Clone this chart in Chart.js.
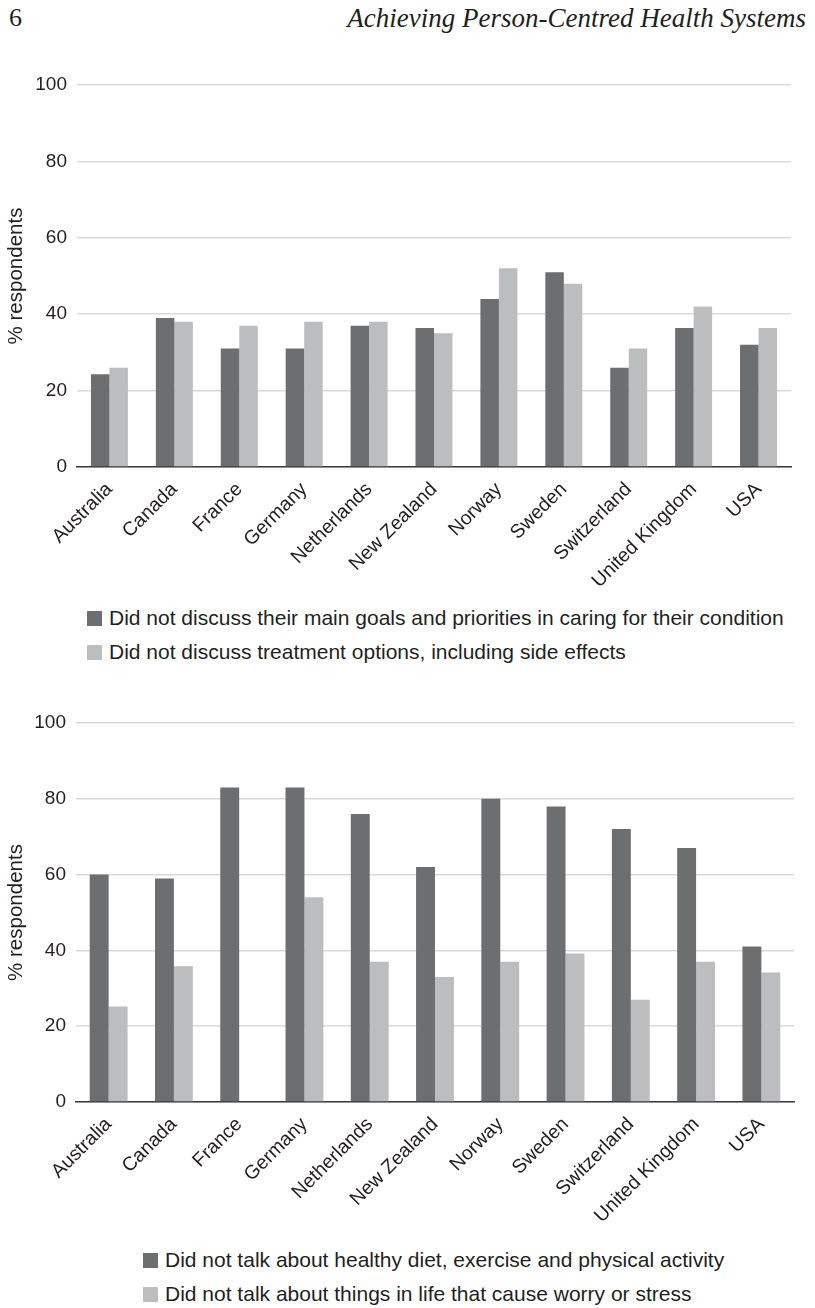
<!DOCTYPE html>
<html>
<head>
<meta charset="utf-8">
<script src="https://cdn.jsdelivr.net/npm/chart.js@4/dist/chart.umd.min.js"></script>
<style>
  html, body { margin: 0; padding: 0; background: #fff; }
  body { width: 815px; height: 1308px; position: relative; overflow: hidden; color: #231f20; }
  .page-no { position: absolute; left: 9px; top: 3px; font: 26px "Liberation Serif", serif; }
  .running-head { position: absolute; right: 9px; top: 3px; font: italic 27px "Liberation Serif", serif; }
  .chart-box { position: absolute; left: 0; width: 815px; height: 540px; }
  .legend { position: absolute; font: 21px "Liberation Sans", Arial, sans-serif; }
  .legend div { height: 34px; line-height: 34px; white-space: nowrap; }
  .legend span { display: inline-block; width: 15px; height: 15px; margin-right: 7px; vertical-align: -1px; }
</style>
</head>
<body>
<div class="page-no">6</div>
<div class="running-head">Achieving Person-Centred Health Systems</div>

<div class="chart-box" style="top:60px"><canvas id="goalsChart"></canvas></div>
<div class="legend" id="goalsLegend" style="left:87px; top:601px"></div>

<div class="chart-box" style="top:700px"><canvas id="lifestyleChart"></canvas></div>
<div class="legend" id="lifestyleLegend" style="left:143px; top:1243px"></div>

<script>
const countries = ['Australia', 'Canada', 'France', 'Germany', 'Netherlands', 'New Zealand',
  'Norway', 'Sweden', 'Switzerland', 'United Kingdom', 'USA'];
const yTicks = [0, 20, 40, 60, 80, 100];

// Top panel
const goalsLabel = 'Did not discuss their main goals and priorities in caring for their condition';
const goalsValues = [24.3, 39, 31, 31, 37, 36.4, 44, 51, 26, 36.4, 32];
const treatmentLabel = 'Did not discuss treatment options, including side effects';
const treatmentValues = [26, 38, 37, 38, 38, 35, 52, 48, 31, 42, 36.4];

// Bottom panel
const dietLabel = 'Did not talk about healthy diet, exercise and physical activity';
const dietValues = [60, 59, 83, 83, 76, 62, 80, 78, 72, 67, 41];
const stressLabel = 'Did not talk about things in life that cause worry or stress';
const stressValues = [25.2, 35.8, 0, 54, 37, 33, 37, 39.2, 27, 37, 34.2];

const darkGrey = '#6d6e70';
const lightGrey = '#bcbdbf';

Chart.defaults.font.family = '"Liberation Sans", Arial, sans-serif';
Chart.defaults.font.size = 19;
Chart.defaults.color = '#231f20';

function initPanel(canvas, series, layout) {
  return new Chart(canvas, {
    type: 'bar',
    data: {
      labels: countries,
      datasets: series.map(s => ({
        label: s.label,
        data: s.values,
        backgroundColor: s.color,
        borderWidth: 0,
        categoryPercentage: layout.groupWidth,
        barPercentage: 1
      }))
    },
    options: {
      responsive: true,
      maintainAspectRatio: false,
      animation: false,
      layout: {
        padding: { top: layout.top, right: layout.right, left: 0, bottom: 0 }
      },
      scales: {
        x: {
          grid: { display: false },
          border: { display: true, color: '#3a3a3a', width: 1.5 },
          ticks: { minRotation: 45, maxRotation: 45, padding: 3, autoSkip: false, font: { size: 19.5 } },
          afterFit: function(scale) { scale.height = layout.xHeight; }
        },
        y: {
          min: yTicks[0],
          max: yTicks[yTicks.length - 1],
          afterBuildTicks: function(scale) { scale.ticks = yTicks.map(v => ({ value: v })); },
          grid: { color: '#d9d9d9', lineWidth: 1.5, drawTicks: false },
          border: { display: false },
          ticks: { padding: 10 },
          title: { display: true, text: '% respondents', font: { size: 20.5 }, padding: { top: 4, bottom: 0 } },
          afterFit: function(scale) { scale.width = layout.yWidth; }
        }
      },
      plugins: {
        legend: { display: false },
        tooltip: { enabled: false }
      }
    }
  });
}

function buildLegend(el, series) {
  series.forEach(s => {
    const row = document.createElement('div');
    const box = document.createElement('span');
    box.style.background = s.color;
    row.appendChild(box);
    row.appendChild(document.createTextNode(s.label));
    el.appendChild(row);
  });
}

const goalsSeries = [
  { label: goalsLabel, values: goalsValues, color: darkGrey },
  { label: treatmentLabel, values: treatmentValues, color: lightGrey }
];
const lifestyleSeries = [
  { label: dietLabel, values: dietValues, color: darkGrey },
  { label: stressLabel, values: stressValues, color: lightGrey }
];

initPanel(document.getElementById('goalsChart'), goalsSeries,
  { top: 25, right: 24, yWidth: 77, xHeight: 133, groupWidth: 0.57 });
initPanel(document.getElementById('lifestyleChart'), lifestyleSeries,
  { top: 23, right: 21, yWidth: 76, xHeight: 138, groupWidth: 0.58 });

buildLegend(document.getElementById('goalsLegend'), goalsSeries);
buildLegend(document.getElementById('lifestyleLegend'), lifestyleSeries);
</script>
</body>
</html>
